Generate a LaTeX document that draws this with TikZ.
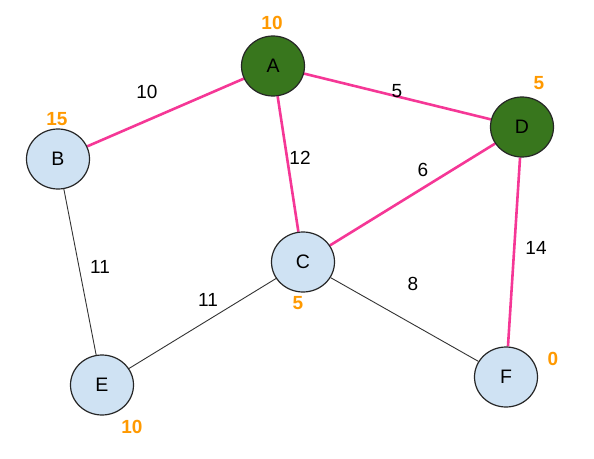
\documentclass[tikz,border=0pt]{standalone}
\usepackage{fontspec}
\setmainfont{Liberation Sans}
\definecolor{pathpink}{RGB}{245,55,150}
\definecolor{visitgreen}{RGB}{56,118,29}
\definecolor{openblue}{RGB}{207,226,243}
\definecolor{costorange}{RGB}{255,153,0}
\usetikzlibrary{shapes.geometric,backgrounds}

\tikzset{
  vertex/.style={ellipse, draw=black!85, line width=1.2pt, minimum width=63pt,
                 minimum height=60pt, inner sep=0pt, font=\fontsize{19.5}{22}\selectfont},
  done/.style={vertex, fill=visitgreen},
  open/.style={vertex, fill=openblue},
  weight/.style={font=\fontsize{19}{22}\selectfont, inner sep=1pt},
  dist/.style={font=\fontsize{19}{22}\selectfont\bfseries, color=costorange, inner sep=1pt},
  tree/.style={pathpink, line width=2.6pt},
  plain/.style={black!80, line width=0.9pt}
}

\begin{document}
\begin{tikzpicture}[x=1pt,y=-1pt]
    \useasboundingbox (0,0) rectangle (594,458);
    % Vertices
    \node[done] (A) at (273,66) {A};
    \node[open] (B) at (58,159) {B};
    \node[open] (C) at (303,262) {C};
    \node[done] (D) at (522,127) {D};
    \node[open] (E) at (102,385) {E};
    \node[open] (F) at (506,377) {F};
    % Edges (behind the vertices)
    \begin{scope}[on background layer]
      \foreach \u/\v in {B/E, E/C, C/F}
        \draw[plain] (\u) -- (\v);
      \foreach \u/\v in {A/B, A/D, A/C, C/D, D/F}
        \draw[tree] (\u) -- (\v);
    \end{scope}
    % Edge weights
    \foreach \n/\x/\y/\w in {ab/147/92/10, ad/397/91/5, ac/300/158/12, cd/423/170/6,
                             be/100/267/11, ce/208/300/11, cf/413/284/8, df/536/248/14}
      \node[weight] (w-\n) at (\x,\y) {\w};
    % Distances
    \foreach \n/\x/\y/\d in {A/272/23/10, B/57/119/15, D/539/83/5,
                             C/298/303/5, E/132/427/10, F/553/359/0}
      \node[dist] (d-\n) at (\x,\y) {\d};
\end{tikzpicture}
\end{document}
